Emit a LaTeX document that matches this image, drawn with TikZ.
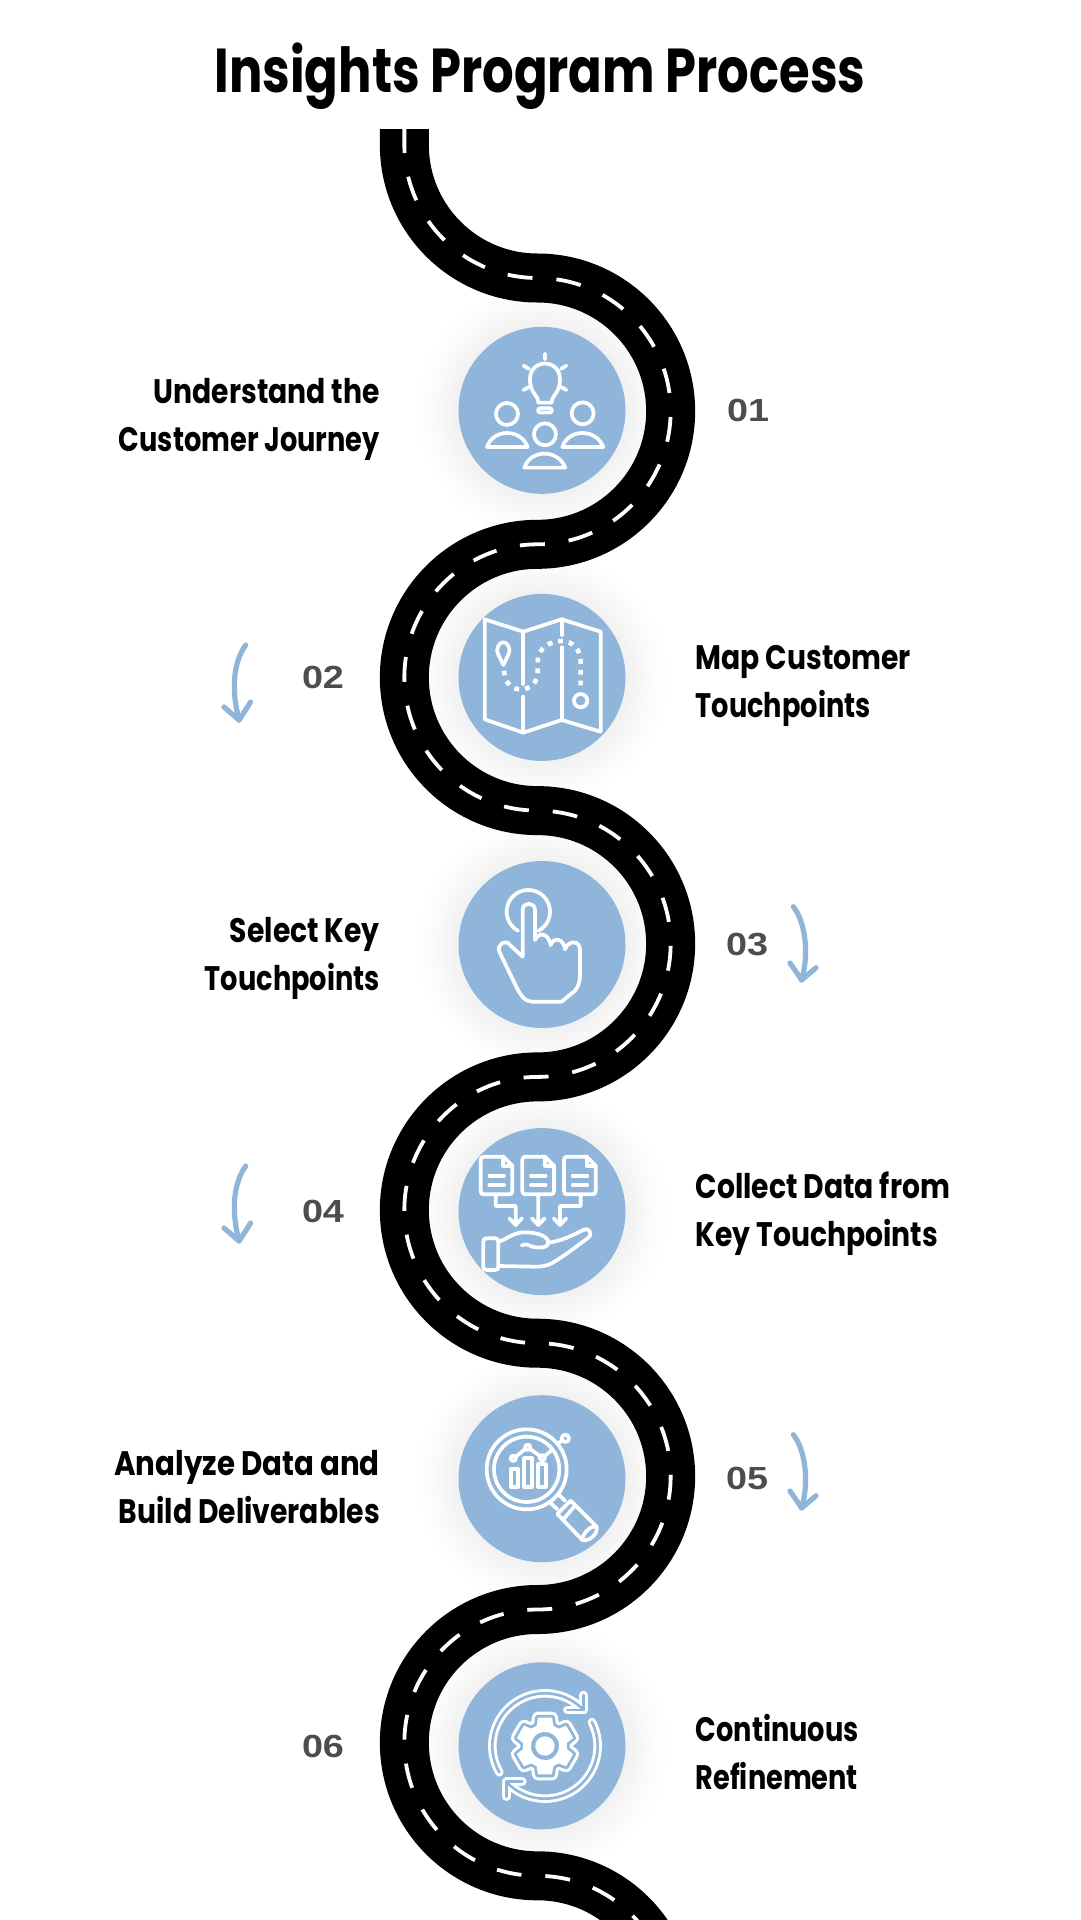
\documentclass[tikz,border=0pt]{standalone}
\usepackage{fontspec}
\setmainfont{Poppins}
\newfontfamily\titlefont[FakeStretch=0.80]{Poppins}
\newfontfamily\labelfont[FakeStretch=0.83]{Poppins}
\newfontfamily\labelwide[FakeStretch=0.86]{Poppins}
\newfontfamily\labelslim[FakeStretch=0.80]{Poppins}
\newfontfamily\numfont[FakeStretch=1.18]{Liberation Sans}
\definecolor{roadblack}{HTML}{000000}
\definecolor{stepblue}{HTML}{8FB5DB}
\definecolor{numgray}{HTML}{4D4D4D}
\pgfdeclareradialshading{softglow}{\pgfpoint{0bp}{0bp}}{%
 color(0bp)=(black!6); color(15bp)=(black!6); color(17bp)=(black!5); color(19bp)=(black!3.5); color(21bp)=(black!2); color(23bp)=(black!0.8); color(25bp)=(white); color(50bp)=(white)}
\tikzset{
 stepcircle/.style={circle,fill=stepblue,minimum size=167pt,inner sep=0pt,outer sep=0pt},
 steplabel/.style={font=\labelfont\bfseries\fontsize{34}{48}\selectfont,text=black,inner sep=0pt},
 stepnum/.style={font=\numfont\bfseries\fontsize{32}{32}\selectfont,text=numgray,inner sep=0pt},
 ic/.style={draw=white,line width=3.7pt,line join=round,line cap=round,fill=none},
 blue arrow/.style={draw=stepblue,line width=5.2pt,line cap=round,line join=round},
 hollow/.style={white,line width=8.5pt,line cap=round,line join=round},
 hollowin/.style={stepblue,line width=2.6pt,line cap=round,line join=round}
}
\newcommand{\zoomscope}[3]{\begin{scope}[shift={(#1,-#2)}]\begin{scope}[x=0.3333pt,y=-0.3333pt]#3\end{scope}\end{scope}}
\newcommand{\glow}[1]{\path[shading=softglow] (#1) circle[radius=128];}
\begin{document}
\begin{tikzpicture}[x=1pt,y=1pt]
\useasboundingbox (0,0) rectangle (1080,-1920);
\fill[white] (0,0) rectangle (1080,-1920);
\clip (0,0) rectangle (1080,-1920);
\foreach \yy in {410.3,677.4,944.5,1211.6,1478.7,1745.8}{\coordinate (g) at (542,-\yy); \glow{g}}
% road
\def\rr{133.15}
\def\roadpath{(404.35,-129) -- (404.35,-144.85) arc[start angle=180,end angle=270,radius=\rr]
 arc[start angle=90,end angle=-90,radius=\rr] arc[start angle=90,end angle=270,radius=\rr]
 arc[start angle=90,end angle=-90,radius=\rr] arc[start angle=90,end angle=270,radius=\rr]
 arc[start angle=90,end angle=-90,radius=\rr] arc[start angle=90,end angle=270,radius=\rr]
 arc[start angle=90,end angle=-90,radius=\rr] arc[start angle=90,end angle=270,radius=\rr]
 arc[start angle=90,end angle=-90,radius=\rr] arc[start angle=90,end angle=270,radius=\rr]
 arc[start angle=90,end angle=0,radius=\rr]}
\draw[roadblack,line width=49pt] \roadpath;
\draw[white,line width=3.8pt,dash pattern=on 25pt off 24pt,dash phase=1pt] \roadpath;
% circles
\node[stepcircle] (c1) at (542,-410.3) {};
\node[stepcircle] (c2) at (542,-677.4) {};
\node[stepcircle] (c3) at (542,-944.5) {};
\node[stepcircle] (c4) at (542,-1211.6) {};
\node[stepcircle] (c5) at (542,-1478.7) {};
\node[stepcircle] (c6) at (542,-1745.8) {};
% title
\node[font=\titlefont\bfseries\fontsize{62}{62}\selectfont,inner sep=0pt,anchor=base] (title) at (540,-92) {Insights Program Process};
% labels
\node[steplabel,anchor=east,align=right] (l1) at (380,-419) {Understand the\\{\labelslim\bfseries Customer Journey}};
\node[steplabel,anchor=west,align=left] (l2) at (695.5,-686) {Map Customer\\{\labelslim\bfseries Touchpoints}};
\node[steplabel,anchor=east,align=right] (l3) at (380,-958) {Select Key\\{\labelslim\bfseries Touchpoints}};
\node[steplabel,anchor=west,align=left] (l4) at (695.5,-1214) {Collect Data from\\Key Touchpoints};
\node[steplabel,anchor=east,align=right] (l5) at (380,-1487) {{\labelwide\bfseries Analyze Data and}\\Build Deliverables};
\node[steplabel,anchor=west,align=left] (l6) at (695.5,-1752) {{\labelslim\bfseries Continuous}\\{\labelslim\bfseries Refinement}};
% numbers
\node[stepnum] (n1) at (748,-410) {01};
\node[stepnum] (n2) at (323,-677.5) {02};
\node[stepnum] (n3) at (747,-944.5) {03};
\node[stepnum] (n4) at (323,-1211.5) {04};
\node[stepnum] (n5) at (747,-1478.5) {05};
\node[stepnum] (n6) at (323,-1746) {06};
% hand-drawn arrows
\foreach \dy in {0,521}{
 \begin{scope}[shift={(0,-\dy)}]
 \draw[blue arrow] (245.7,-645) .. controls (235,-660) and (230,-685) .. (239,-720);
 \draw[blue arrow] (224,-707) -- (239,-720) .. controls (243,-714) and (247,-708) .. (250.5,-702);
 \end{scope}}
\foreach \dy in {0,528}{
 \begin{scope}[shift={(0,-\dy)}]
 \draw[blue arrow] (793.3,-906.7) .. controls (804,-920) and (810,-950) .. (801.7,-980);
 \draw[blue arrow] (790,-963) -- (801.7,-980) -- (816,-967.7);
 \end{scope}}
% icon 1
\zoomscope{360}{100}{
 \draw[ic] (535,908) .. controls (535,885) and (510,880) .. (510,838) .. controls (510,775) and (600,775) .. (600,838) .. controls (600,880) and (575,885) .. (575,908) -- cycle;
 \draw[ic] (555,761)--(555,778) (491,797)--(507,807) (619,797)--(603,807) (491,870)--(507,861) (619,870)--(603,861);
 \draw[ic] (541,925) -- (569,925) .. controls (578,925) and (578,938) .. (569,938) -- (541,938) .. controls (532,938) and (532,925) .. (541,925) -- cycle;
 \draw[ic] (441,942) circle[radius=33] (668,940) circle[radius=33] (555,1003) circle[radius=33];
 \draw[ic] (381,1041) .. controls (400,985) and (482,985) .. (503,1041) -- cycle;
 \draw[ic] (607,1041) .. controls (626,985) and (708,985) .. (730,1041) -- cycle;
 \draw[ic] (493,1103) .. controls (512,1047) and (594,1047) .. (616,1103) -- cycle;
}
% icon 2
\zoomscope{450}{590}{
 \draw[ic] (104,88)--(220,125)--(335,88)--(452,125)--(452,425)--(335,390)--(220,428)--(104,388)--cycle;
 \draw[ic] (220,125)--(220,282) (220,320)--(220,428) (335,88)--(335,135) (335,172)--(335,390);
 \draw[ic] (160,225) .. controls (145,195) and (140,185) .. (142,178) .. controls (146,150) and (174,150) .. (178,178) .. controls (180,185) and (175,195) .. (160,225) -- cycle;
 \draw[ic,line cap=butt,line width=4.6pt,dash pattern=on 4.8pt off 6pt] (162,242) .. controls (165,285) and (190,298) .. (212,298) .. controls (245,298) and (263,275) .. (263,245) -- (263,215) .. controls (263,175) and (300,153) .. (335,153) .. controls (370,153) and (392,180) .. (392,215) -- (392,295);
 \draw[ic] (392,332) circle[radius=20];
}
% icon 3
\zoomscope{450}{860}{
 \draw[ic] plot[domain=118:422,samples=50] ({235+65*cos(\x)},{155+65*sin(\x)});
 \draw[ic,fill=stepblue] (218,290) -- (218,150) .. controls (218,125) and (255,125) .. (255,150) -- (255,240) .. controls (270,210) and (298,225) .. (302,255) .. controls (310,230) and (342,235) .. (345,268) .. controls (355,240) and (390,240) .. (390,270) -- (390,345) .. controls (390,365) and (385,380) .. (375,392) -- (335,425) -- (245,425) .. controls (225,425) and (210,405) .. (195,372) -- (148,275) .. controls (140,255) and (165,235) .. (180,255) -- cycle;
}
% icon 4
\zoomscope{450}{1125}{
 \foreach \dx in {0,125,250}{
 \draw[ic] (\dx+160,95) -- (\dx+102,95) .. controls (\dx+95,95) and (\dx+92,98) .. (\dx+92,105) -- (\dx+92,198) .. controls (\dx+92,205) and (\dx+95,208) .. (\dx+102,208) -- (\dx+177,208) .. controls (\dx+184,208) and (\dx+187,205) .. (\dx+187,198) -- (\dx+187,122) -- cycle;
 \draw[ic] (\dx+160,95) -- (\dx+160,122) -- (\dx+187,122);
 \draw[ic] (\dx+118,152) -- (\dx+162,152) (\dx+118,180) -- (\dx+162,180);
 }
 \draw[ic] (137,208)--(137,243)--(197,243)--(197,300) (178,280)--(197,300)--(216,280);
 \draw[ic] (265,208)--(265,300) (246,280)--(265,300)--(284,280);
 \draw[ic] (392,208)--(392,243)--(330,243)--(330,300) (311,280)--(330,300)--(349,280);
 \draw[ic] (110,340) -- (135,340) .. controls (142,340) and (145,343) .. (145,350) -- (145,425) .. controls (145,432) and (142,435) .. (135,435) -- (110,435) .. controls (103,435) and (100,432) .. (100,425) -- (100,350) .. controls (100,343) and (103,340) .. (110,340) -- cycle;
 \draw[ic] (147,350) .. controls (175,340) and (190,322) .. (225,322) .. controls (265,322) and (295,335) .. (295,353) .. controls (295,372) and (255,370) .. (240,362) .. controls (230,357) and (222,358) .. (215,361);
 \draw[ic] (293,353) .. controls (330,350) and (370,330) .. (400,315) .. controls (415,305) and (430,325) .. (415,338) .. controls (385,360) and (340,395) .. (310,412) .. controls (290,425) and (270,425) .. (250,425) -- (147,423);
}
% icon 5
\zoomscope{450}{1390}{
 \draw[ic] (230,238) circle[radius=120] (230,238) circle[radius=98];
 \draw[ic] (182,238) rectangle (205,290) (223,205) rectangle (247,290) (265,222) rectangle (288,290);
 \draw[ic] (190,205) circle[radius=8] (233,172) circle[radius=8] (277,203) circle[radius=8] (346,145) circle[radius=11];
 \draw[ic] (197,200)--(226,177) (240,177)--(270,198) (284,198)--(306,180) (326,158)--(337,152);
 \draw[ic] (300,337)--(322,358) (325,312)--(345,332);
 \draw[ic] (322,372) -- (362,332) -- (440,410) .. controls (445,430) and (420,455) .. (397,450) -- cycle;
 \draw[ic] (440,410) .. controls (420,405) and (395,435) .. (397,450);
 \draw[ic] (340,388) -- (375,347);
}
% icon 6
\zoomscope{450}{1660}{
 \def\gearpath{(-14:88) \foreach \a in {0,60,...,300}{ -- (\a-14:88) -- (\a+14:88) -- (\a+22:66) -- (\a+38:66)} -- cycle}
 \begin{scope}[shift={(285,258)},rotate=30]
 \draw[white,line width=12pt,line join=round] \gearpath;
 \draw[stepblue,line width=5.6pt,line join=round] \gearpath;
 \fill[white] \gearpath;
 \fill[stepblue] (0,0) circle[radius=42];
 \fill[white] (0,0) circle[radius=29];
 \end{scope}
 \draw[hollow] plot[domain=150:317,samples=60] ({285+158*cos(\x)},{258+158*sin(\x)}) -- (400,150);
 \draw[hollow] (352,150)--(400,150)--(400,105);
 \draw[hollow] plot[domain=-27:137,samples=60] ({285+158*cos(\x)},{258+158*sin(\x)}) -- (170,365);
 \draw[hollow] (170,410)--(170,365)--(217,365);
 \draw[hollowin] plot[domain=150:317,samples=60] ({285+158*cos(\x)},{258+158*sin(\x)}) -- (400,150);
 \draw[hollowin] (352,150)--(400,150)--(400,105);
 \draw[hollowin] plot[domain=-27:137,samples=60] ({285+158*cos(\x)},{258+158*sin(\x)}) -- (170,365);
 \draw[hollowin] (170,410)--(170,365)--(217,365);
}
\end{tikzpicture}
\end{document}
